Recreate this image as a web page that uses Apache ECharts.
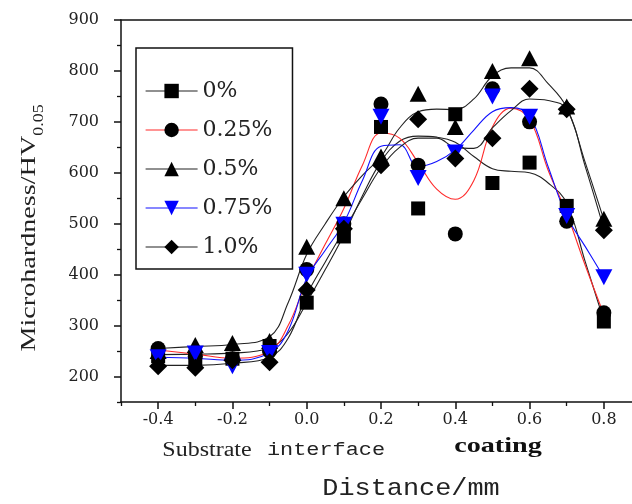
<!DOCTYPE html>
<html>
<head>
<meta charset="utf-8">
<script src="https://cdn.jsdelivr.net/npm/echarts@6/dist/echarts.min.js"></script>
<style>html,body{margin:0;padding:0;background:#fff}#c{width:632px;height:504px}</style>
</head>
<body>
<div id="c"></div>
<script>
// ---- data ----
const seriesNames = ['0%', '0.25%', '0.5%', '0.75%', '1.0%'];
const distance = [-0.4, -0.3, -0.2, -0.1, 0.0, 0.1, 0.2, 0.3, 0.4, 0.5, 0.6, 0.7, 0.8];
const hv0   = [240, 235, 235, 260, 345, 475, 690, 530, 715, 580, 620, 535, 308];
const hv025 = [255, 240, 235, 250, 410, 500, 735, 615, 480, 765, 700, 505, 325];
const hv05  = [250, 262, 266, 270, 455, 550, 632, 755, 690, 800, 825, 730, 510];
const hv075 = [238, 245, 220, 246, 400, 498, 710, 590, 640, 750, 710, 515, 395];
const hv10  = [220, 217, 232, 228, 370, 490, 615, 705, 628, 668, 765, 725, 487];

// fitted curves
const fitX   = [-0.4, -0.3, -0.2, -0.1, -0.05, 0, 0.05, 0.1, 0.15, 0.2, 0.25, 0.3, 0.35, 0.4, 0.45, 0.5, 0.55, 0.6, 0.65, 0.7, 0.75, 0.8];
const fit0   = [243, 244, 246, 256, 285, 345, 410, 478, 555, 622, 662, 672, 670, 660, 632, 608, 603, 600, 580, 540, 425, 310];
const fit025 = [252, 244, 236, 250, 300, 388, 460, 530, 615, 678, 668, 620, 568, 548, 585, 690, 727, 705, 605, 520, 418, 322];
const fit05  = [255, 259, 263, 278, 345, 440, 500, 553, 595, 632, 688, 720, 725, 724, 745, 790, 806, 806, 775, 728, 620, 508];
const fit075 = [238, 236, 232, 246, 290, 393, 448, 502, 585, 652, 655, 612, 622, 645, 684, 720, 728, 712, 612, 515, 455, 395];
const fit10  = [222, 222, 226, 238, 275, 360, 425, 487, 550, 610, 650, 668, 668, 650, 648, 688, 722, 745, 742, 725, 612, 490];

const xMajor = [-0.4, -0.2, 0.0, 0.2, 0.4, 0.6, 0.8];
const xMinor = [-0.5, -0.3, -0.1, 0.1, 0.3, 0.5, 0.7, 0.9];
const yMajor = [200, 300, 400, 500, 600, 700, 800, 900];
const yMinor = [150, 250, 350, 450, 550, 650, 750, 850];

// ---- styling ----
const pts = [hv0, hv025, hv05, hv075, hv10];
const fits = [fit0, fit025, fit05, fit075, fit10];
const symbols = ['rect', 'circle', 'triangle', 'triangle', 'diamond'];
const symSizes = [14, 15, [17, 16], [17, 16], 18];
const rotates = [0, 0, 0, 180, 0];
const markColor = ['#000', '#000', '#000', '#0000ff', '#000'];
const lineColor = ['#222', '#ff2a2a', '#222', '#1010ff', '#222'];

const zip = (xs, ys) => xs.map((x, i) => [x, ys[i]]);

const series = [];
seriesNames.forEach((n, i) => {
  series.push({
    name: n, type: 'line', data: zip(distance, pts[i]),
    symbol: symbols[i], symbolSize: symSizes[i], symbolRotate: rotates[i],
    showAllSymbol: true,
    itemStyle: { color: markColor[i] },
    lineStyle: { width: 0, color: lineColor[i] },
    z: 5, silent: true
  });
});
seriesNames.forEach((n, i) => {
  series.push({
    name: n, type: 'line', data: zip(fitX, fits[i]),
    symbol: 'none', smooth: 0.4,
    lineStyle: { width: 1.1, color: lineColor[i] },
    z: 3, silent: true
  });
});

const axisTxt = { fontFamily: '"DejaVu Serif"', fontSize: 16, color: '#222' };

const chart = echarts.init(document.getElementById('c'), null, { renderer: 'canvas' });
chart.setOption({
  animation: false,
  backgroundColor: '#fff',
  grid: { left: 121, right: -9, top: 20, bottom: 102, outerBoundsMode: 'none', containLabel: false },
  xAxis: [
    { type: 'value', min: -0.5, max: 0.9, position: 'bottom',
      axisLine: { show: true, onZero: false, lineStyle: { color: '#111', width: 1.5 } },
      axisTick: { show: true, inside: false, length: 7, customValues: xMajor, lineStyle: { color: '#111', width: 1.5 } },
      axisLabel: { show: true, margin: 10, customValues: xMajor, formatter: v => v.toFixed(1), ...axisTxt },
      splitLine: { show: false } },
    { type: 'value', min: -0.5, max: 0.9, position: 'bottom',
      axisLine: { show: false, onZero: false },
      axisTick: { show: true, inside: false, length: 4, customValues: xMinor, lineStyle: { color: '#111', width: 1.3 } },
      axisLabel: { show: false }, splitLine: { show: false } },
    { type: 'value', min: -0.5, max: 0.9, position: 'top',
      axisLine: { show: true, onZero: false, lineStyle: { color: '#111', width: 1.5 } },
      axisTick: { show: false }, axisLabel: { show: false }, splitLine: { show: false } }
  ],
  yAxis: [
    { type: 'value', min: 150, max: 900, position: 'left',
      axisLine: { show: true, onZero: false, lineStyle: { color: '#111', width: 1.5 } },
      axisTick: { show: true, inside: false, length: 7, customValues: yMajor, lineStyle: { color: '#111', width: 1.5 } },
      axisLabel: { show: true, margin: 22, customValues: yMajor, ...axisTxt },
      splitLine: { show: false } },
    { type: 'value', min: 150, max: 900, position: 'left',
      axisLine: { show: false, onZero: false },
      axisTick: { show: true, inside: false, length: 4, customValues: yMinor, lineStyle: { color: '#111', width: 1.3 } },
      axisLabel: { show: false }, splitLine: { show: false } }
  ],
  legend: {
    data: seriesNames, orient: 'vertical', left: 136, top: 48,
    itemWidth: 52, itemHeight: 18, itemGap: 17,
    padding: [32, 20, 11, 9],
    borderColor: '#111', borderWidth: 1.5, backgroundColor: '#fff',
    lineStyle: { width: 1.2 },
    textStyle: { fontFamily: '"DejaVu Serif"', fontSize: 22, color: '#222' },
    selectedMode: false
  },
  series: series,
  graphic: [
    { type: 'text', x: 32, y: 228, rotation: Math.PI / 2, scaleX: 1.28, z: 10,
      style: { text: '{a|Microhardness/HV}{b|0.05}', align: 'center', verticalAlign: 'middle', fill: '#222',
        rich: { a: { fontFamily: '"Liberation Serif"', fontSize: 22, fill: '#222', verticalAlign: 'bottom', padding: [0, 0, 6, 0] },
                b: { fontFamily: '"Liberation Serif"', fontSize: 14, fill: '#222', verticalAlign: 'bottom' } } } },
    { type: 'text', x: 207, y: 451, scaleX: 1.2, z: 10,
      style: { text: 'Substrate', font: '20px "Liberation Serif"', fill: '#222', align: 'center', verticalAlign: 'middle' } },
    { type: 'text', x: 326, y: 450, scaleX: 1.15, z: 10,
      style: { text: 'interface', font: '19px "Liberation Mono"', fill: '#222', align: 'center', verticalAlign: 'middle' } },
    { type: 'text', x: 498, y: 446, scaleX: 1.28, z: 10,
      style: { text: 'coating', font: 'bold 22px "Liberation Serif"', fill: '#111', align: 'center', verticalAlign: 'middle' } },
    { type: 'text', x: 411, y: 489, scaleX: 1.12, z: 10,
      style: { text: 'Distance/mm', font: '24px "Liberation Mono"', fill: '#222', align: 'center', verticalAlign: 'middle' } }
  ]
});
</script>
</body>
</html>
